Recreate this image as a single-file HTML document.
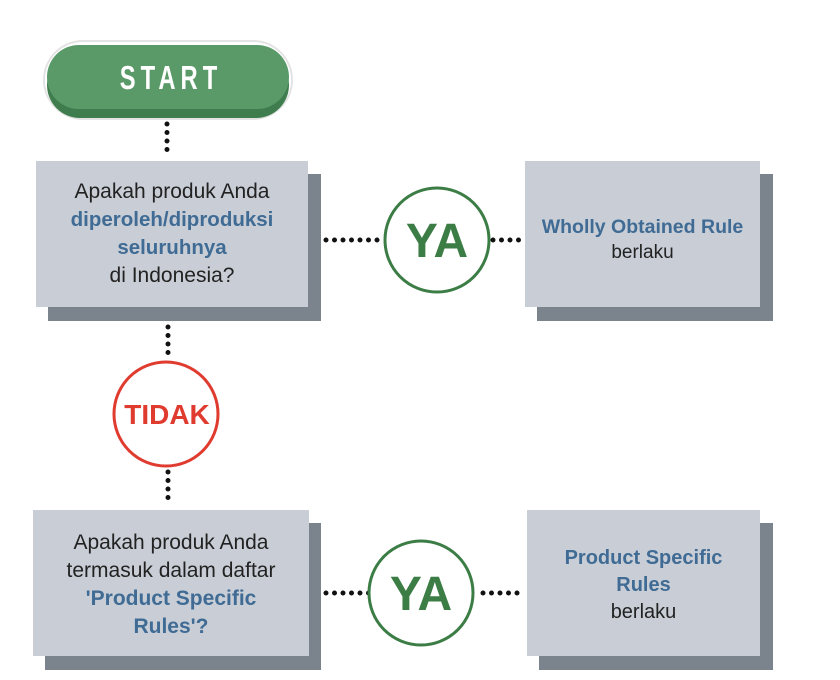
<!DOCTYPE html>
<html><head><style>
body{margin:0;background:#fff;width:840px;height:680px;overflow:hidden;font-family:"Liberation Sans",sans-serif}
svg{position:absolute;left:0;top:0}
.t{position:absolute;text-align:center;font-size:21px;color:#222;line-height:25px;white-space:nowrap}
.b{color:#3f6b94;font-weight:bold}
</style></head><body>
<svg width="840" height="680">
<rect x="44" y="41" width="248" height="78" rx="39" fill="#fff" stroke="#e3e3e3" stroke-width="2"/>
<rect x="47" y="52" width="242" height="66" rx="33" fill="#3f7d4e"/>
<rect x="47" y="45" width="242" height="64" rx="32" fill="#5a9a69"/>
<text x="0" y="0" text-anchor="middle" fill="#fff" font-size="33" font-weight="bold" letter-spacing="7" transform="translate(171,89) scale(0.72,1)">START</text>
<g fill="#7b838d">
<rect x="48" y="174" width="273" height="147"/>
<rect x="537" y="174" width="236" height="147"/>
<rect x="45" y="523" width="276" height="147"/>
<rect x="539" y="523" width="234" height="147"/>
</g>
<g fill="#c9ced6">
<rect x="36" y="161" width="272" height="146"/>
<rect x="525" y="161" width="235" height="146"/>
<rect x="33" y="510" width="276" height="146"/>
<rect x="527" y="510" width="233" height="146"/>
</g>
<g stroke="#111" stroke-width="5" stroke-linecap="round" stroke-dasharray="0 8.5" fill="none">
<line x1="167" y1="124" x2="167" y2="156"/>
<line x1="326" y1="240" x2="380" y2="240"/>
<line x1="493" y1="240" x2="520" y2="240"/>
<line x1="168" y1="327" x2="168" y2="358"/>
<line x1="168" y1="472" x2="168" y2="503"/>
<line x1="326" y1="593" x2="372" y2="593"/>
<line x1="483" y1="593" x2="520" y2="593"/>
</g>
<circle cx="437" cy="240" r="52" fill="#fff" stroke="#3c7d46" stroke-width="3"/>
<circle cx="421" cy="593" r="52" fill="#fff" stroke="#3c7d46" stroke-width="3"/>
<circle cx="166" cy="414" r="52" fill="#fff" stroke="#e03b2f" stroke-width="3"/>
<text x="437" y="257" text-anchor="middle" fill="#3c7d46" font-size="48" font-weight="bold">YA</text>
<text x="421" y="610" text-anchor="middle" fill="#3c7d46" font-size="48" font-weight="bold">YA</text>
<text x="167" y="424" text-anchor="middle" fill="#e03b2f" font-size="28" font-weight="bold">TIDAK</text>
</svg>
<div class="t" style="left:36px;width:272px;top:178px;line-height:28px">Apakah produk Anda<br><span class="b" style="font-size:20.5px">diperoleh/diproduksi<br>seluruhnya</span><br>di Indonesia?</div>
<div class="t" style="left:525px;width:235px;top:215px;font-size:19px">
<span class="b" style="font-size:19.5px">Wholly Obtained Rule</span><br>berlaku</div>
<div class="t" style="left:33px;width:276px;top:529px;line-height:28px">Apakah produk Anda<br>termasuk dalam daftar<br><span class="b">'Product Specific<br>Rules'?</span></div>
<div class="t" style="left:527px;width:233px;top:545px;line-height:27px;font-size:20px"><span class="b">Product Specific<br>Rules</span><br>berlaku</div>
</body></html>
